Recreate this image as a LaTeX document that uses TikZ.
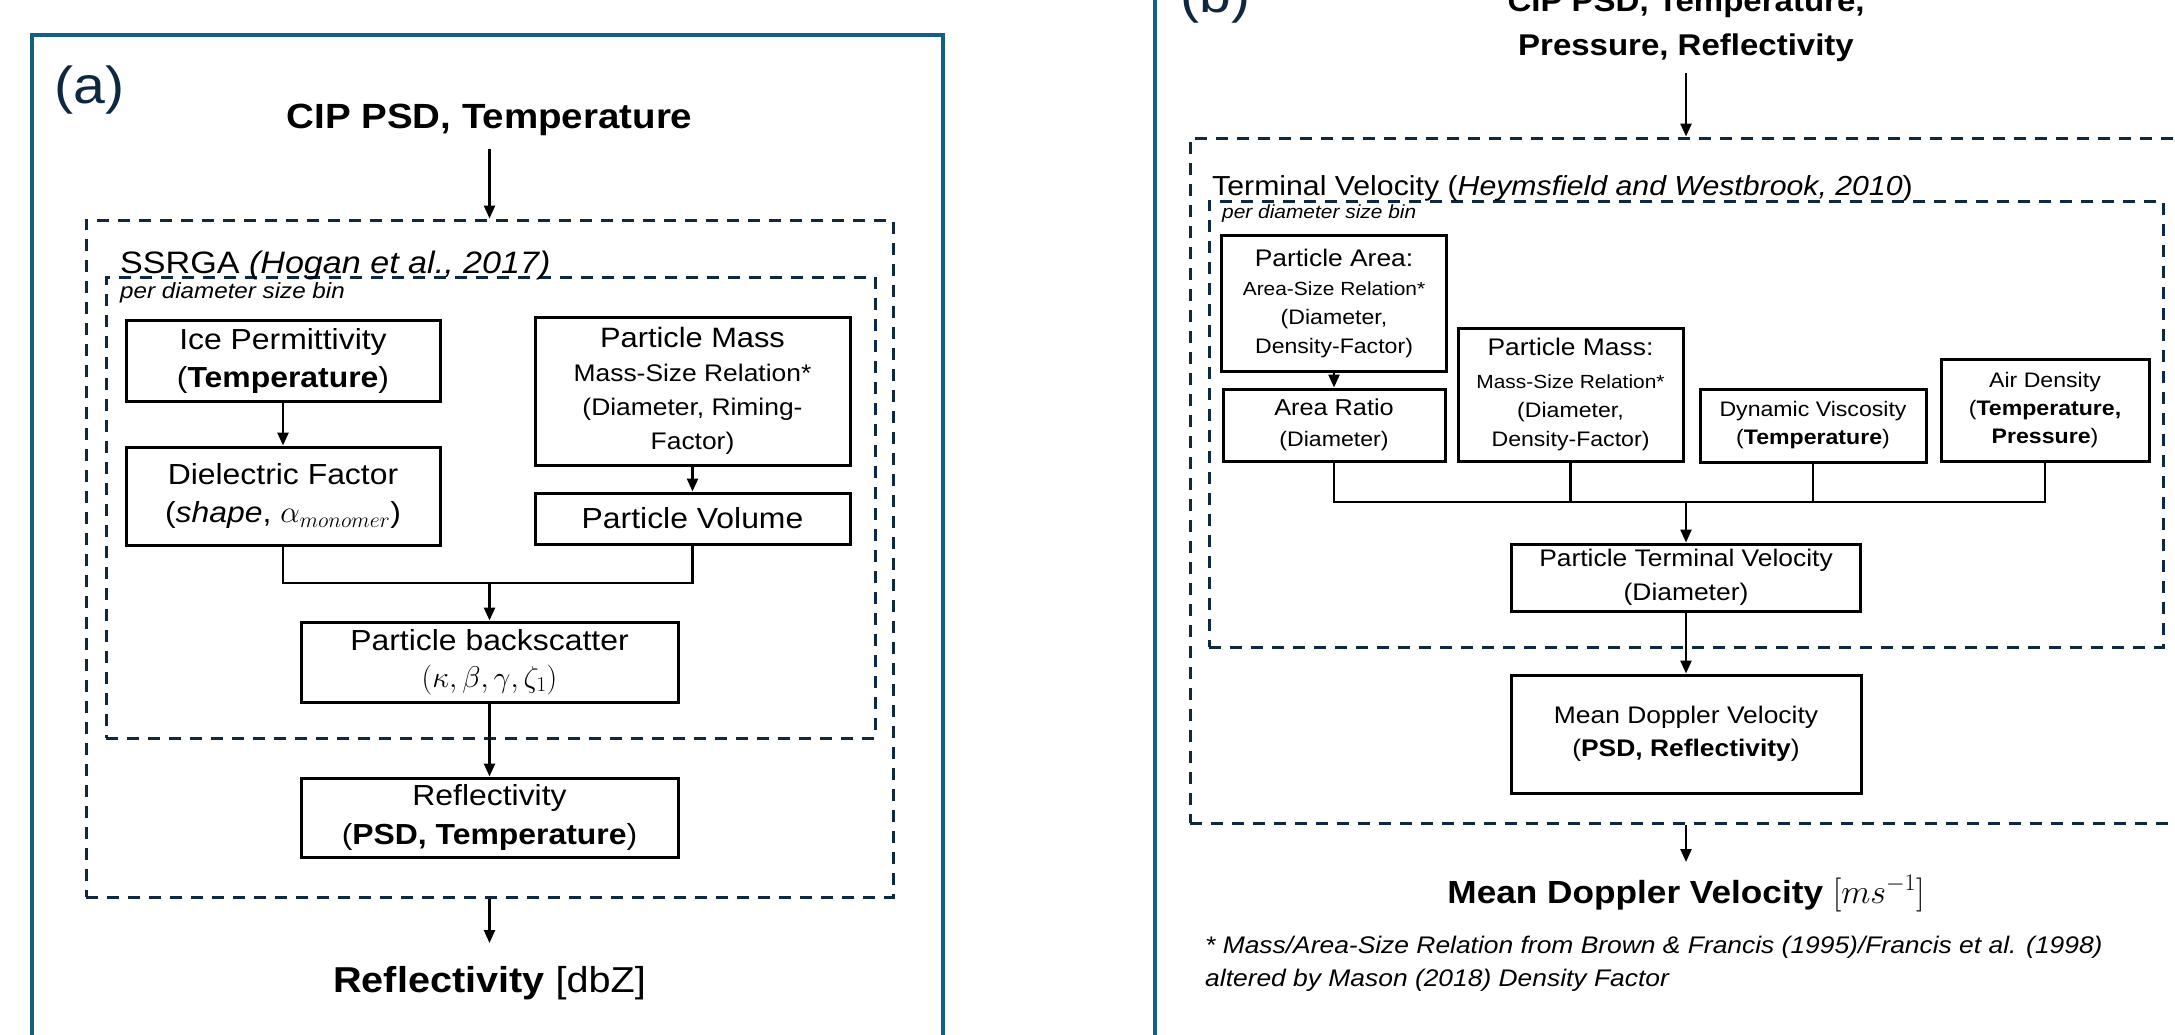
\RequirePackage{fix-cm}
\documentclass[tikz,border=0pt]{standalone}
\usepackage[no-math]{fontspec}
\setmainfont{Liberation Sans}[FakeStretch=1.1]
\usetikzlibrary{arrows.meta}
\definecolor{frameblue}{HTML}{156082}
\definecolor{navy}{HTML}{0E2841}
\newcommand{\fsz}[2]{\fontsize{#1}{#2}\selectfont}
\begin{document}
\begin{tikzpicture}[x=1pt,y=-1pt,
  box/.style={draw, line width=3pt, inner sep=0pt, align=center},
  dbox/.style={draw=navy, line width=3pt, dash pattern=on 12pt off 9pt, inner sep=0pt},
  arr/.style={line width=2.5pt, -{Triangle[length=13pt,width=11pt]}},
  conn/.style={line width=2.8pt},
  frame/.style={draw=frameblue, line width=3.5pt},
  lab/.style={inner sep=0pt, text=navy, font=\fsz{52}{60}},
  txt/.style={inner sep=0pt},
]
\useasboundingbox (0,0) rectangle (2175,1034);
\clip (0,0) rectangle (2175,1034);

% ---------------- panel (a)
\draw[frame] (32,1100) -- (32,35) -- (943,35) -- (943,1100);
\node[lab, anchor=base west] (labA) at (54,103) {(a)};
\node[txt, anchor=base, font=\fsz{35}{42}\bfseries] (titleA) at (489.5,128) {CIP PSD, Temperature};
\node[dbox, minimum width=807pt, minimum height=677pt] (outerA) at (489.5,558.5) {};
\node[dbox, minimum width=769pt, minimum height=461pt] (innerA) at (490.5,507.5) {};
\node[txt, anchor=base west, font=\fsz{31}{36}] (ssrga) at (120,273) {SSRGA \textit{(Hogan et al., 2017)}};
\node[txt, anchor=base west, font=\fsz{22}{26}\itshape] (binA) at (120,298) {per diameter size bin};

\node[box, minimum width=314pt, minimum height=81pt, font=\fsz{29}{38}] (ice) at (283,360.5) {Ice Permittivity\\(\textbf{Temperature})};
\node[box, minimum width=314pt, minimum height=98pt, font=\fsz{29}{38}] (diel) at (283,496) {Dielectric Factor\\(\textit{shape}, {\fsz{31}{38}$\alpha_{monomer}$})};
\node[box, minimum width=315pt, minimum height=148pt, font=\fsz{24}{34}] (massA) at (692.5,391) {{\fsz{28}{34}Particle Mass}\\Mass-Size Relation*\\(Diameter, Riming-\\Factor)};
\node[box, minimum width=315pt, minimum height=51pt, font=\fsz{29}{38}] (vol) at (692.5,518.5) {Particle Volume};
\node[box, minimum width=377pt, minimum height=80pt, font=\fsz{29}{37}] (back) at (489.5,662) {Particle backscatter\\{\fsz{30}{37}$(\kappa,\beta,\gamma,\zeta_1)$}};
\node[box, minimum width=377pt, minimum height=79pt, font=\fsz{29}{39}] (reflA) at (489.5,817.5) {Reflectivity\\(\textbf{PSD, Temperature})};
\node[txt, anchor=base, font=\fsz{36}{42}] (outA) at (489.5,992) {\textbf{Reflectivity} [dbZ]};
\coordinate (jA) at (489.5,583);
\coordinate (endA) at (489.5,943);

\draw[arr] ([yshift=-14pt]titleA.south) -- (outerA.north);
\draw[arr] (ice) -- (diel);
\draw[arr] (massA) -- (vol);
\draw[conn] (diel.south) |- (jA) -| (vol.south);
\draw[arr] (jA) -- (back.north);
\draw[arr] (back) -- (reflA);
\draw[arr] (outerA.south) -- (endA);

% ---------------- panel (b)
\draw[frame] (1155,-10) -- (1155,1100);
\node[lab, anchor=base west] (labB) at (1180,12) {(b)};
\node[txt, anchor=base, font=\fsz{30}{36}\bfseries] (titleB1) at (1686,11) {CIP PSD, Temperature,};
\node[txt, anchor=base, font=\fsz{30}{36}\bfseries] (titleB2) at (1686,55) {Pressure, Reflectivity};
\node[dbox, minimum width=1010pt, minimum height=685pt] (outerB) at (1695,480.5) {};
\node[dbox, minimum width=954pt, minimum height=446pt] (innerB) at (1686,424) {};
\node[txt, anchor=base west, font=\fsz{27.5}{33}] (tvlab) at (1212,195) {Terminal Velocity (\textit{Heymsfield and Westbrook, 2010})};
\node[txt, anchor=base west, font=\fsz{19}{23}\itshape] (binB) at (1222,218) {per diameter size bin};

\node[box, minimum width=225pt, minimum height=136pt, font=\fsz{21}{29}] (area) at (1334,303) {{\fsz{24}{29}Particle Area:}\\{\fsz{19}{29}Area-Size Relation*}\\(Diameter,\\Density-Factor)};
\node[box, minimum width=222pt, minimum height=72pt, font=\fsz{21}{31}] (ratio) at (1334,425) {{\fsz{23}{31}Area Ratio}\\(Diameter)};
\node[box, minimum width=225pt, minimum height=133pt, font=\fsz{21}{29}] (massB) at (1570.5,394.5) {{\fsz{24}{29}Particle Mass:}\\[4pt]{\fsz{19}{29}Mass-Size Relation*}\\(Diameter,\\Density-Factor)};
\node[box, minimum width=226pt, minimum height=73pt, font=\fsz{21}{28}] (visc) at (1813,425.5) {Dynamic Viscosity\\(\textbf{Temperature})};
\node[box, minimum width=208pt, minimum height=102pt, font=\fsz{21}{28}] (air) at (2045,410) {Air Density\\(\textbf{Temperature,}\\\textbf{Pressure})};
\node[box, minimum width=349pt, minimum height=67pt, font=\fsz{24}{34}] (tv) at (1686,577.5) {Particle Terminal Velocity\\(Diameter)};
\node[box, minimum width=350pt, minimum height=118pt, font=\fsz{24}{33}] (md) at (1686,734) {Mean Doppler Velocity\\(\textbf{PSD, Reflectivity})};
\node[txt, anchor=base, font=\fsz{32}{38}] (outB) at (1686,903) {\textbf{Mean Doppler Velocity} {\fsz{34}{38}$[ms^{-1}]$}};
\node[txt, anchor=base west, font=\fsz{24}{33}\itshape] (foot1) at (1205,953) {* Mass/Area-Size Relation from Brown \& Francis (1995)/Francis et al. (1998)};
\node[txt, anchor=base west, font=\fsz{24}{33}\itshape] (foot2) at (1205,986) {altered by Mason (2018) Density Factor};
\coordinate (jB) at (1686,502);
\coordinate (endB) at (1686,862);

\draw[arr] ([yshift=-12pt]titleB2.south) -- (titleB2.south |- outerB.north);
\draw[arr] (area) -- (ratio);
\draw[conn] (ratio.south) |- (jB) -| (air.south);
\draw[conn] (massB.south) -- (massB.south |- jB);
\draw[conn] (visc.south) -- (visc.south |- jB);
\draw[arr] (jB) -- (tv.north);
\draw[arr] (tv) -- (md);
\draw[arr] (md.south |- outerB.south) -- (endB);
\end{tikzpicture}
\end{document}
